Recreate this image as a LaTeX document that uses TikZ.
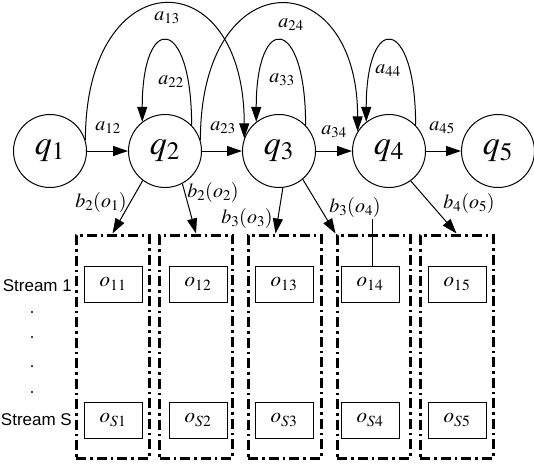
\documentclass[tikz,border=0pt]{standalone}
\usepackage{mathptmx}
\usepackage{fontspec}
\setsansfont{Liberation Sans}
\usepackage{tikz}
\usetikzlibrary{positioning,calc,arrows.meta}
\tikzset{
  state/.style    = {draw=black, circle, minimum size=73pt, inner sep=0pt, line width=1pt, font=\fontsize{34}{36}\selectfont},
  trans/.style    = {-{Triangle[length=15pt,width=10pt]}, line width=1pt},
  emit/.style     = {-{Triangle[length=15pt,width=10pt]}, line width=1pt},
  lab/.style      = {font=\fontsize{20}{22}\selectfont, inner sep=0pt},
  column/.style   = {draw=black, line width=3pt, dash pattern=on 10pt off 4pt on 2.5pt off 4pt, minimum width=73pt, minimum height=223pt, inner sep=0pt},
  obs/.style      = {draw=black, line width=1pt, minimum width=58pt, minimum height=36pt, inner sep=0pt, font=\fontsize{21}{23}\selectfont},
  stream/.style   = {font=\sffamily\fontsize{17}{19}\selectfont, anchor=east, inner sep=0pt},
  vdot/.style     = {circle, fill=black, inner sep=0pt, minimum size=2.4pt},
}
\begin{document}
\begin{tikzpicture}[x=1pt,y=-1pt]
  \useasboundingbox (0,0) rectangle (534,464);

  % ---- states ----
  \foreach \i/\x in {1/50, 2/165, 3/279, 4/389, 5/498} {
    \node[state] (q\i) at (\x,151) {$q_{\i}$};
  }

  % ---- forward transitions ----
  \foreach \i/\j in {1/2, 2/3, 3/4, 4/5} {
    \draw[trans] (q\i) -- (q\j);
  }
  \node[lab] (a12) at (108,128) {$a_{12}$};
  \node[lab] (a23) at (223,128) {$a_{23}$};
  \node[lab] (a34) at (334,132) {$a_{34}$};
  \node[lab] (a45) at (442,128) {$a_{45}$};

  % ---- self loops ----
  \foreach \i in {2,3,4} {
    \draw[trans] (q\i.44) .. controls +(0,-110) and +(0,-110) .. (q\i.128);
  }
  \node[lab] (a22) at (171,82) {$a_{22}$};
  \node[lab] (a33) at (282,80) {$a_{33}$};
  \node[lab] (a44) at (388,71) {$a_{44}$};

  % ---- skip transitions ----
  \draw[trans] (q1.17) .. controls +(0,-180) and +(0,-180) .. (q3.160);
  \draw[trans] (q2.17) .. controls +(0,-180) and +(0,-170) .. (q4.148);
  \node[lab] (a13) at (167,18) {$a_{13}$};
  \node[lab] (a24) at (291,25) {$a_{24}$};

  % ---- observation columns ----
  \foreach \k/\x/\ox in {1/112.5/113, 2/196/198, 3/284.5/284, 4/373.5/370, 5/456.5/457} {
    \node[column] (col\k) at (\x,346.5) {};
    \node[obs] (o1\k) at (\ox,284) {$o_{1\k}$};
    \node[obs] (oS\k) at (\ox,420) {$o_{S\k}$};
  }

  % ---- emissions ----
  \draw[emit] (q2.233) -- (col1.north);
  \draw[emit] (q2.298) -- (col2.north);
  \draw[emit] (q3.276) -- ([xshift=-9pt]col3.north);
  \draw[emit] (q3.310) -- (col4.north west);
  \draw[emit] (q4.306) -- (col5.north);
  \coordinate (tick) at (372,219);
  \draw[line width=0.6pt] (tick) -- (tick |- o14.north);

  \node[lab] (b21) at (101,202) {$b_2(o_1)$};
  \node[lab] (b22) at (213,192) {$b_2(o_2)$};
  \node[lab] (b33) at (247,218) {$b_3(o_3)$};
  \node[lab] (b34) at (355,207) {$b_3(o_4)$};
  \node[lab] (b45) at (469,203) {$b_4(o_5)$};

  % ---- stream labels ----
  \node[stream] (s1) at (72,286) {Stream 1};
  \node[stream] (sS) at (72,420) {Stream S};
  \foreach \y in {312, 337, 366, 392} {
    \node[vdot] at (32,\y) {};
  }
\end{tikzpicture}
\end{document}
